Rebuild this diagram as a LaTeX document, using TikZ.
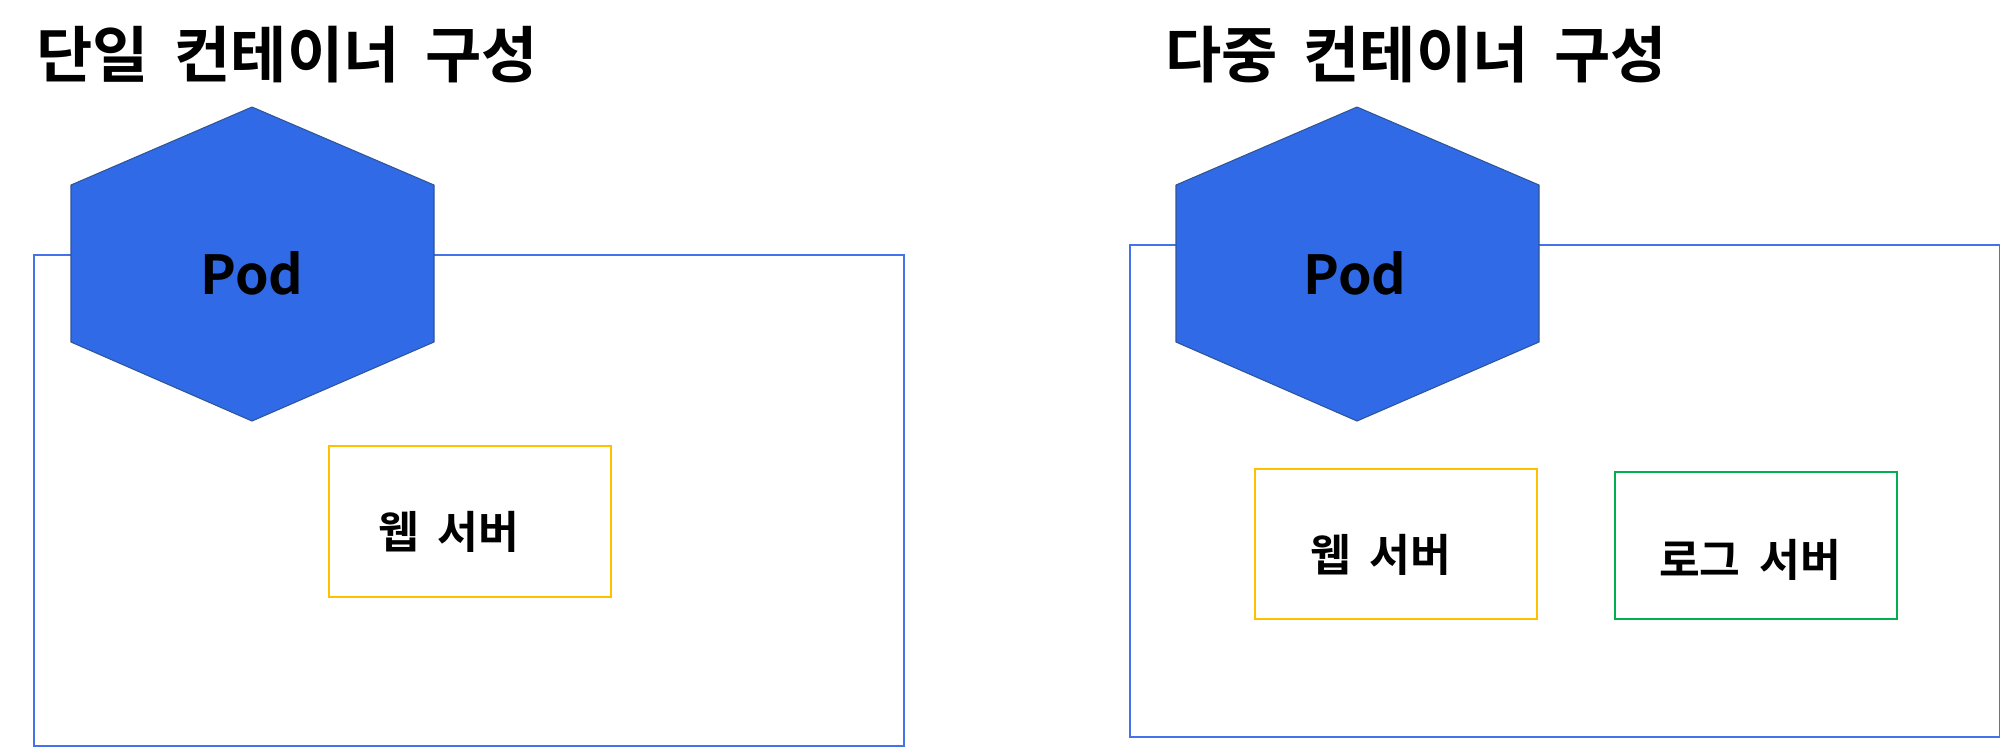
\documentclass[tikz,border=0pt]{standalone}
\usepackage{fontspec}
\setmainfont{Noto Sans CJK KR}[BoldFont={Noto Sans CJK KR Bold}]
\newcommand{\wordgap}{\spaceskip=0.42em\relax}
\definecolor{podblue}{HTML}{306AE6}
\definecolor{podline}{HTML}{2F5597}
\definecolor{frameblue}{HTML}{4472E8}
\definecolor{webyellow}{HTML}{FFC000}
\definecolor{loggreen}{HTML}{00B050}
\tikzset{
	frame/.style = {frameblue, line width = 0.7pt},
	pod/.style = {fill = podblue, draw = podline, line width = 0.3pt, line join = round},
	title/.style = {font = \bfseries\fontsize{17.4}{20}\selectfont, inner sep = 0pt},
	podlabel/.style = {font = \bfseries\fontsize{15.3}{18}\selectfont, inner sep = 0pt},
	server/.style = {font = \bfseries\fontsize{12.6}{16}\selectfont, inner sep = 0pt}
}
\begin{document}
\begin{tikzpicture}[x = 0.01cm, y = -0.01cm]
\useasboundingbox (0,0) rectangle (2000,747);
\begin{scope}
	\draw [frame] (34,255) rectangle (904,746);
	\draw [pod] (71,185) -- (252,107) -- (434,185) -- (434,342) -- (252,421) -- (71,342) -- cycle;
	\draw [webyellow, line width = 0.7pt] (329,446) rectangle (611,597);
	\node [title] (singletitle) at (287,55) {\wordgap 단일 컨테이너 구성};
	\node [podlabel] (singlepod) at (252,273) {Pod};
	\node [server] (singleweb) at (449,532) {\wordgap 웹 서버};
\end{scope}
\begin{scope}
	\draw [frame] (1130,245) rectangle (2000,737);
	\draw [pod] (1176,185) -- (1357,107) -- (1539,185) -- (1539,342) -- (1357,421) -- (1176,342) -- cycle;
	\draw [webyellow, line width = 0.7pt] (1255,469) rectangle (1537,619);
	\draw [loggreen, line width = 0.7pt] (1615,472) rectangle (1897,619);
	\node [title] (multititle) at (1416,55) {\wordgap 다중 컨테이너 구성};
	\node [podlabel] (multipod) at (1355,273) {Pod};
	\node [server] (multiweb) at (1381,555) {\wordgap 웹 서버};
	\node [server] (multilog) at (1750,560) {\wordgap 로그 서버};
\end{scope}
\end{tikzpicture}
\end{document}
